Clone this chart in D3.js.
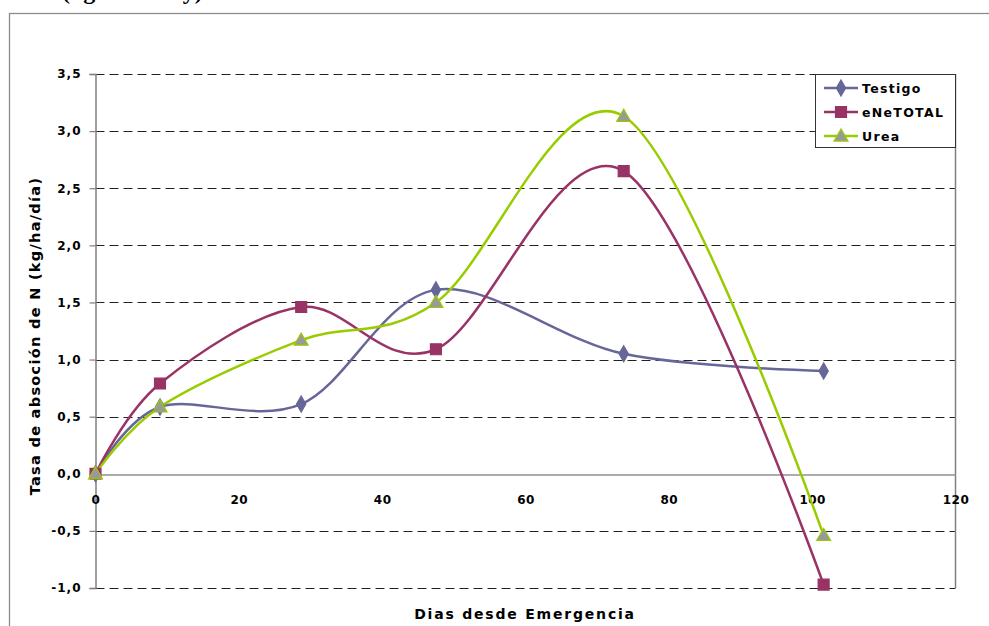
<!DOCTYPE html>
<html><head><meta charset="utf-8">
<script src="https://cdn.jsdelivr.net/npm/d3@7"></script>
<style>
html,body{margin:0;padding:0;background:#fff;}
svg{display:block;}
</style></head>
<body>
<svg id="chart" width="989" height="626"></svg>
<script>
const days = [0, 9, 28.7, 47.5, 73.7, 101.6];
const testigo = [0, 0.585, 0.61, 1.61, 1.05, 0.90];
const enetotal = [0, 0.79, 1.46, 1.09, 2.65, -0.97];
const urea = [0, 0.585, 1.17, 1.50, 3.13, -0.54];
const seriesNames = ["Testigo", "eNeTOTAL", "Urea"];
const xTicks = [0, 20, 40, 60, 80, 100, 120];
const yTicks = [-1.0, -0.5, 0.0, 0.5, 1.0, 1.5, 2.0, 2.5, 3.0, 3.5];

const svg = d3.select("#chart");
const x = d3.scaleLinear().domain([0, 120]).range([95.5, 955.5]);
const y = d3.scaleLinear().domain([-1, 3.5]).range([588, 74]);
const fmt = v => d3.format(".1f")(v).replace(".", ",").replace("−","-");
const font = "'DejaVu Sans', sans-serif";

// outer frame
svg.append("rect").attr("x", 9.5).attr("y", 13.5).attr("width", 1000).attr("height", 700)
  .attr("fill", "none").attr("stroke", "#8c8c8c").attr("stroke-width", 1.3);
// caption above the frame (cut off at the top, as in the original)
svg.append("text").attr("x", 62).attr("y", -1).attr("font-family", "'Liberation Serif', serif")
  .attr("font-size", 24).attr("font-weight", "bold").attr("fill", "#000").text("(kg N/ha/day)");

// gridlines (dashed), except zero
const g = svg.append("g");
g.selectAll("line.grid").data(yTicks.filter(t => t !== 0)).join("line")
  .attr("x1", x(0)).attr("x2", x(120))
  .attr("y1", d => Math.round(y(d)) + 0.5).attr("y2", d => Math.round(y(d)) + 0.5)
  .attr("stroke", "#222").attr("stroke-width", 1).attr("stroke-dasharray", "9,5");

// right border
svg.append("line").attr("x1", x(120)).attr("x2", x(120)).attr("y1", y(3.5)).attr("y2", y(-1))
  .attr("stroke", "#808080").attr("stroke-width", 1.5);

// y axis
const yAxis = d3.axisLeft(y).tickValues(yTicks).tickFormat(fmt).tickSize(6).tickPadding(8);
const ya = svg.append("g").attr("transform", `translate(${x(0)},0)`).call(yAxis);
ya.select(".domain").attr("stroke", "#808080").attr("stroke-width", 1.5);
ya.selectAll(".tick line").attr("stroke", "#808080").attr("stroke-width", 1.2);
ya.selectAll("text").attr("font-family", font).attr("font-size", 12).attr("font-weight", "bold")
  .attr("fill", "#000").attr("letter-spacing", 1);

// x axis at zero
const xAxis = d3.axisBottom(x).tickValues(xTicks).tickFormat(d3.format("d")).tickSize(0).tickPadding(21);
const xa = svg.append("g").attr("transform", `translate(0,${Math.round(y(0)) + 0.5})`).call(xAxis);
xa.select(".domain").attr("stroke", "#909090").attr("stroke-width", 1.5);
xa.selectAll("text").attr("font-family", font).attr("font-size", 12).attr("font-weight", "bold")
  .attr("fill", "#000").attr("letter-spacing", 0.5);

// titles
svg.append("text").attr("transform", `translate(40,336) rotate(-90)`).attr("text-anchor", "middle")
  .attr("font-family", font).attr("font-size", 14.5).attr("font-weight", "bold").attr("letter-spacing", 1.3)
  .text("Tasa de absoción de N (kg/ha/día)");
svg.append("text").attr("x", 525).attr("y", 619).attr("text-anchor", "middle")
  .attr("font-family", font).attr("font-size", 14).attr("font-weight", "bold").attr("letter-spacing", 1.8)
  .text("Dias desde Emergencia");

// series
const series = [
  {name: seriesNames[0], values: testigo, color: "#666699", fill: "#666699", shape: d3.symbolDiamond, size: 75, stroke: "#666699"},
  {name: seriesNames[1], values: enetotal, color: "#993366", fill: "#993366", shape: d3.symbolSquare, size: 120, stroke: "#993366"},
  {name: seriesNames[2], values: urea, color: "#99cc00", fill: "#999999", shape: d3.symbolTriangle, size: 85, stroke: "#99cc00"}
];
const line = d3.line().x((d, i) => x(days[i])).y(d => y(d)).curve(d3.curveCardinal.tension(0));
series.forEach(s => {
  svg.append("path").datum(s.values).attr("d", line).attr("fill", "none")
    .attr("stroke", s.color).attr("stroke-width", 2.5);
});
series.forEach(s => {
  svg.append("g").selectAll("path").data(s.values).join("path")
    .attr("transform", (d, i) => `translate(${x(days[i])},${y(d) + (s.shape === d3.symbolTriangle ? 1 : 0)})`)
    .attr("d", d3.symbol().type(s.shape).size(s.size))
    .attr("fill", s.fill).attr("stroke", s.stroke).attr("stroke-width", 1.2);
});

// legend
const lg = svg.append("g");
lg.append("rect").attr("x", 815.5).attr("y", 74.5).attr("width", 140).attr("height", 73)
  .attr("fill", "#fff").attr("stroke", "#333").attr("stroke-width", 1);
series.forEach((s, i) => {
  const yy = 88 + i * 24;
  lg.append("line").attr("x1", 824).attr("x2", 858).attr("y1", yy).attr("y2", yy)
    .attr("stroke", s.color).attr("stroke-width", 2.5);
  lg.append("path").attr("transform", `translate(841,${yy + (s.shape === d3.symbolTriangle ? 1 : 0)})`)
    .attr("d", d3.symbol().type(s.shape).size(s.size)).attr("fill", s.fill)
    .attr("stroke", s.stroke).attr("stroke-width", 1.2);
  lg.append("text").attr("x", 862).attr("y", yy + 4.5).attr("font-family", font)
    .attr("font-size", 12.5).attr("font-weight", "bold").attr("letter-spacing", 1.3).text(s.name);
});
</script>
</body></html>
